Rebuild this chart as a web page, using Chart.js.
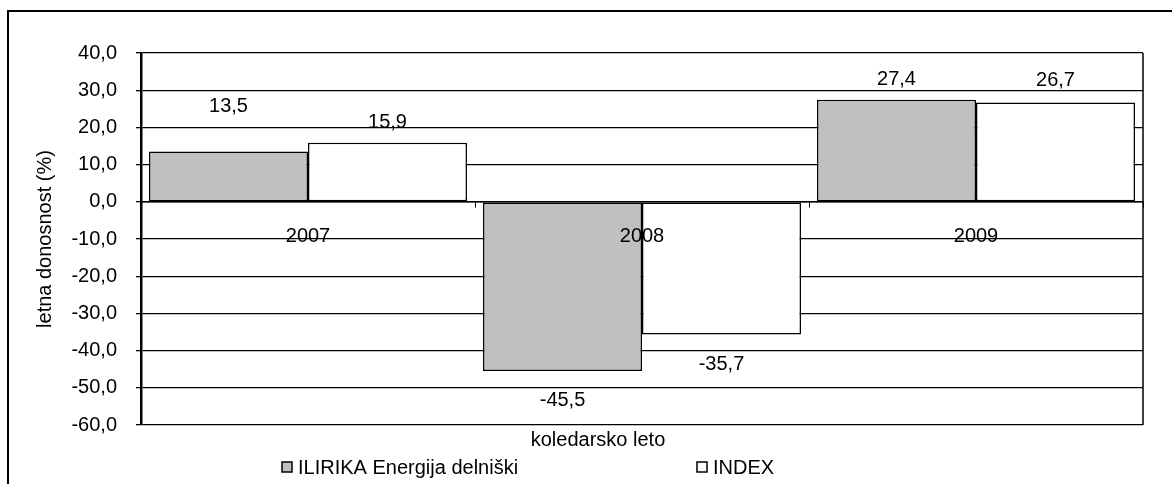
<!DOCTYPE html>
<html>
<head>
<meta charset="utf-8">
<script src="https://cdn.jsdelivr.net/npm/chart.js@4.4.0/dist/chart.umd.min.js"></script>
<style>
  html, body { margin: 0; padding: 0; background: #fff; }
  #wrap { width: 1172px; height: 484px; }
</style>
</head>
<body>
<div id="wrap"><canvas id="returnsChart" width="1172" height="484"></canvas></div>
<script>
// === Données ===
const years = ["2007", "2008", "2009"];
const ilirika = [13.5, -45.5, 27.4];
const indexVals = [15.9, -35.7, 26.7];
const seriesNames = ["ILIRIKA Energija delniški", "INDEX"];
const yTicks = [40, 30, 20, 10, 0, -10, -20, -30, -40, -50, -60];

// décalage vertical des étiquettes (px, par rapport au bout de la barre)
const labelShift = [[-47, 28, -22], [-22, 28, -23]];

const FONT = "'Liberation Sans', Arial, sans-serif";
const fmt = v => v.toFixed(1).replace(".", ",");

const excelExtras = {
  id: "excelExtras",
  afterDatasetsDraw(chart) {
    const ctx = chart.ctx;
    ctx.save();
    ctx.font = "20px " + FONT;
    ctx.fillStyle = "#000";
    ctx.textAlign = "center";
    ctx.textBaseline = "alphabetic";
    chart.data.datasets.forEach((ds, di) => {
      chart.getDatasetMeta(di).data.forEach((bar, i) => {
        ctx.fillText(fmt(ds.data[i]), bar.x, bar.y + labelShift[di][i] + 7);
      });
    });
    ctx.restore();
  },
  afterDraw(chart) {
    const { ctx, chartArea: a } = chart;
    ctx.save();
    ctx.strokeStyle = "#000";

    // bord droit de la zone de tracé
    ctx.lineWidth = 1.5;
    ctx.beginPath();
    ctx.moveTo(a.right, a.top);
    ctx.lineTo(a.right, a.bottom);
    ctx.stroke();

    // cadre extérieur
    ctx.lineWidth = 2;
    ctx.beginPath();
    ctx.moveTo(8, 484);
    ctx.lineTo(8, 11);
    ctx.lineTo(1172, 11);
    ctx.stroke();

    // titre de l'axe x
    ctx.font = "20px " + FONT;
    ctx.fillStyle = "#000";
    ctx.textAlign = "center";
    ctx.textBaseline = "alphabetic";
    ctx.fillText("koledarsko leto", 598, 446);

    // légende
    const legendX = [282, 697];
    ctx.textAlign = "left";
    chart.data.datasets.forEach((ds, di) => {
      const x = legendX[di];
      ctx.fillStyle = ds.backgroundColor;
      ctx.fillRect(x, 462, 10, 10);
      ctx.lineWidth = 1.5;
      ctx.strokeRect(x, 462, 10, 10);
      ctx.fillStyle = "#000";
      ctx.fillText(ds.label, x + 16, 474);
    });
    ctx.restore();
  }
};

new Chart(document.getElementById("returnsChart"), {
  type: "bar",
  data: {
    labels: years,
    datasets: [
      {
        label: seriesNames[0],
        data: ilirika,
        backgroundColor: "#c0c0c0",
        borderColor: "#000",
        borderWidth: 1.5,
        borderSkipped: false,
        categoryPercentage: 0.952,
        barPercentage: 1
      },
      {
        label: seriesNames[1],
        data: indexVals,
        backgroundColor: "#ffffff",
        borderColor: "#000",
        borderWidth: 1.5,
        borderSkipped: false,
        categoryPercentage: 0.952,
        barPercentage: 1
      }
    ]
  },
  options: {
    responsive: false,
    animation: false,
    layout: { padding: { left: 0, top: 53, right: 29, bottom: 59 } },
    plugins: {
      legend: { display: false },
      tooltip: { enabled: false }
    },
    scales: {
      x: {
        position: { y: 0 },
        offset: true,
        afterFit: s => { s.height = 0; },
        grid: {
          drawOnChartArea: false,
          drawTicks: true,
          tickLength: 5,
          tickColor: "#000",
          tickWidth: 1
        },
        border: { display: true, color: "#000", width: 1.5, z: 1 },
        ticks: {
          z: 1,
          color: "#000",
          padding: 18,
          maxRotation: 0,
          font: { family: FONT, size: 20, lineHeight: 1.2 }
        }
      },
      y: {
        min: Math.min(...yTicks),
        max: Math.max(...yTicks),
        afterFit: s => { s.width = 141; },
        afterBuildTicks: s => { s.ticks = yTicks.map(v => ({ value: v })); },
        grid: {
          color: "#000",
          lineWidth: 1.3,
          drawTicks: true,
          tickLength: 5,
          tickColor: "#000"
        },
        border: { display: true, color: "#000", width: 2.5 },
        ticks: {
          color: "#000",
          padding: 19,
          font: { family: FONT, size: 20 },
          callback: v => fmt(v)
        },
        title: {
          display: true,
          text: "letna donosnost (%)",
          color: "#000",
          padding: { top: 33 },
          font: { family: FONT, size: 20, lineHeight: 1.2 }
        }
      }
    }
  },
  plugins: [excelExtras]
});
</script>
</body>
</html>
